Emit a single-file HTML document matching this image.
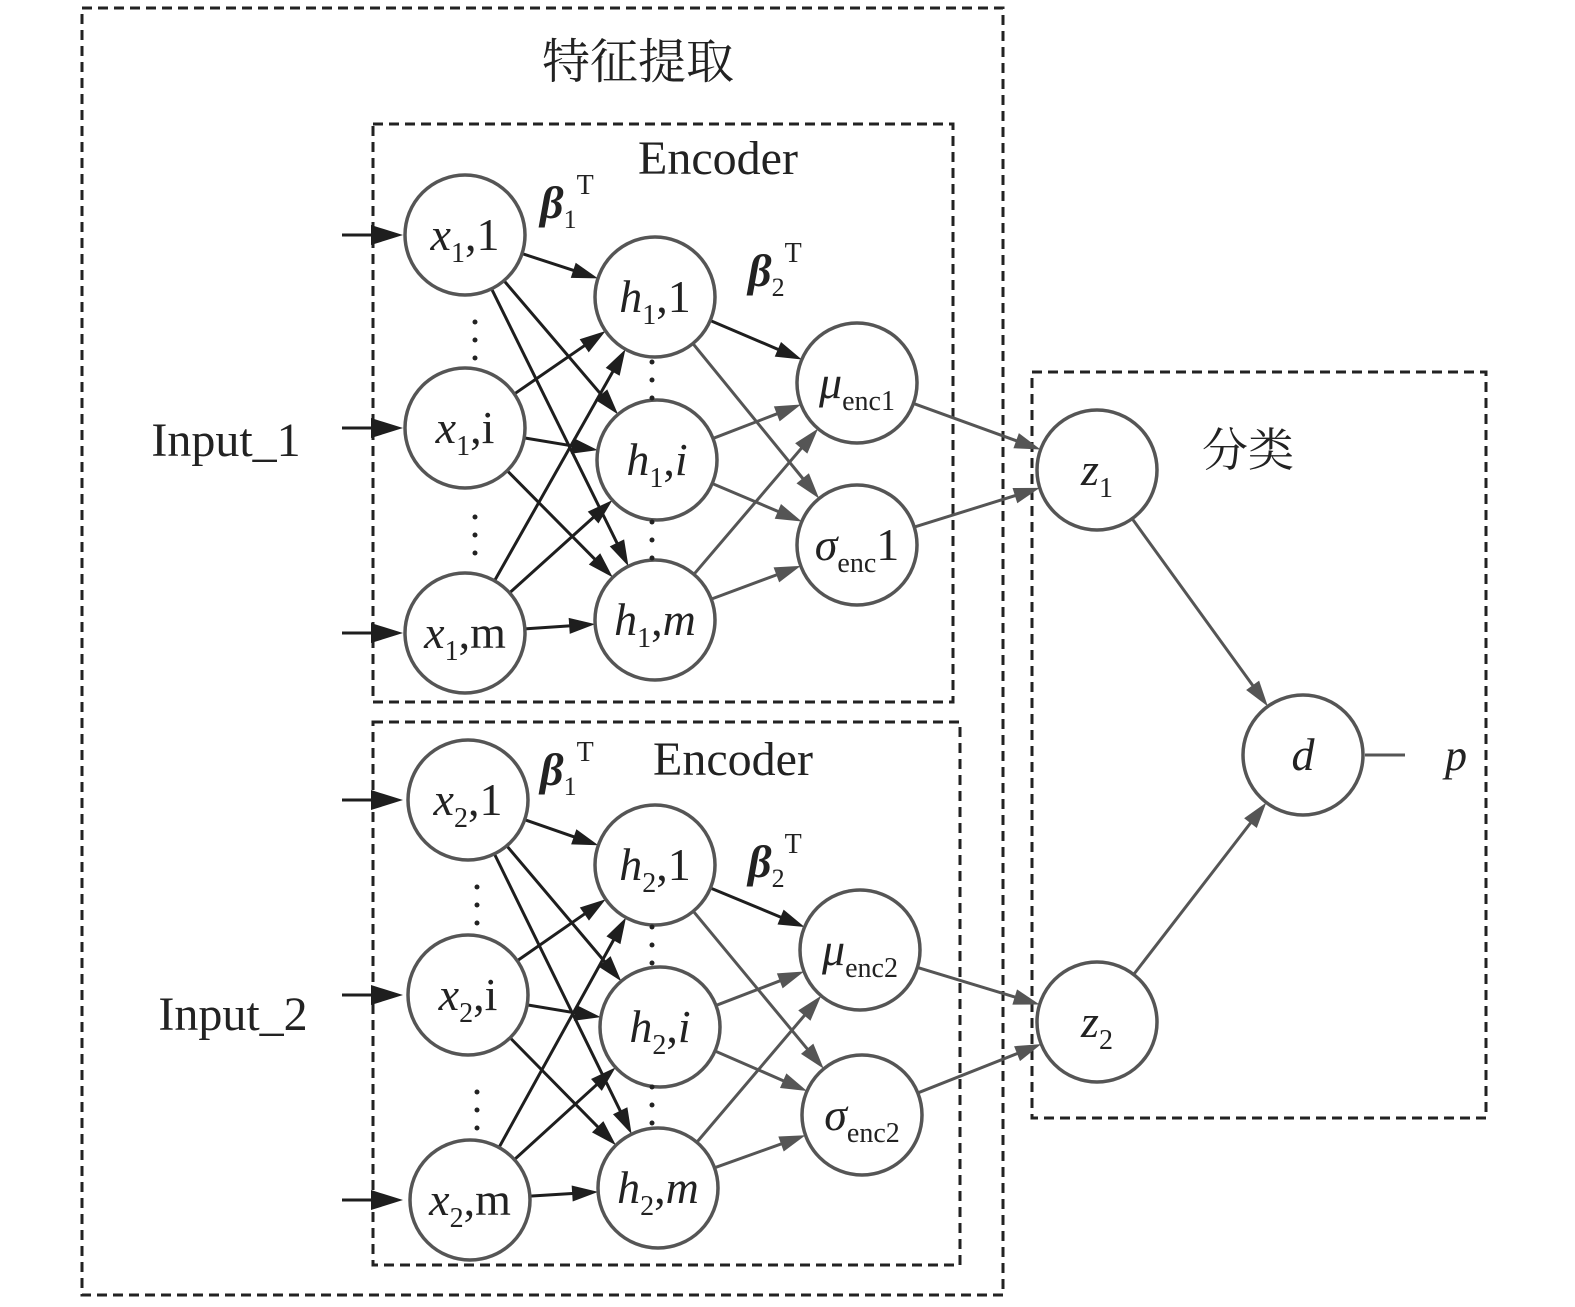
<!DOCTYPE html>
<html><head><meta charset="utf-8"><style>
html,body{margin:0;padding:0;background:#fff}
svg{display:block}
text{font-family:"Liberation Serif","Noto Serif CJK SC",serif;fill:#222}
</style></head><body>
<svg id="s" width="1575" height="1307" viewBox="0 0 1575 1307" xmlns="http://www.w3.org/2000/svg">
<g fill="none" stroke="#222" stroke-width="3" stroke-dasharray="10,6">
<rect x="82" y="8" width="921" height="1287"/>
<rect x="373" y="124" width="580" height="578"/>
<rect x="373" y="722" width="587" height="543"/>
<rect x="1032" y="372" width="454" height="746"/>
</g>
<text x="638" y="78" font-size="48" text-anchor="middle" font-family="Noto Serif CJK SC,serif">特征提取</text>
<text x="1248" y="466" font-size="46" text-anchor="middle" font-family="Noto Serif CJK SC,serif">分类</text>
<text x="718" y="174" font-size="48" text-anchor="middle">Encoder</text>
<text x="733" y="775" font-size="48" text-anchor="middle">Encoder</text>
<text x="226" y="456" font-size="48" text-anchor="middle">Input_1</text>
<text x="233" y="1030" font-size="48" text-anchor="middle">Input_2</text>
<g id="edges"></g>
<g id="nodes"></g>
<g font-size="46">
<text x="540" y="218" font-weight="bold" font-style="italic">β<tspan font-size="26" font-weight="normal" font-style="normal" dy="10">1</tspan><tspan font-size="28" font-weight="normal" font-style="normal" dy="-34">T</tspan></text>
<text x="748" y="286" font-weight="bold" font-style="italic">β<tspan font-size="26" font-weight="normal" font-style="normal" dy="10">2</tspan><tspan font-size="28" font-weight="normal" font-style="normal" dy="-34">T</tspan></text>
<text x="540" y="785" font-weight="bold" font-style="italic">β<tspan font-size="26" font-weight="normal" font-style="normal" dy="10">1</tspan><tspan font-size="28" font-weight="normal" font-style="normal" dy="-34">T</tspan></text>
<text x="748" y="877" font-weight="bold" font-style="italic">β<tspan font-size="26" font-weight="normal" font-style="normal" dy="10">2</tspan><tspan font-size="28" font-weight="normal" font-style="normal" dy="-34">T</tspan></text>
</g>
<line x1="1365" y1="755" x2="1405" y2="755" stroke="#555" stroke-width="3"/>
<text x="1456" y="770" font-size="44" font-style="italic" text-anchor="middle">p</text>
</svg>
<script>
const NS="http://www.w3.org/2000/svg";
const E=document.getElementById('edges'),N=document.getElementById('nodes');
const R=60;
function el(t,a,p){const e=document.createElementNS(NS,t);for(const k in a)e.setAttribute(k,a[k]);p.appendChild(e);return e;}
function arrow(x1,y1,x2,y2,c,hl,hw){
 const dx=x2-x1,dy=y2-y1,L=Math.hypot(dx,dy),ux=dx/L,uy=dy/L;
 const bx=x2-ux*hl,by=y2-uy*hl;
 el('line',{x1,y1,x2:bx+ux*2,y2:by+uy*2,stroke:c,'stroke-width':3},E);
 el('polygon',{points:`${x2},${y2} ${bx-uy*hw/2},${by+ux*hw/2} ${bx+uy*hw/2},${by-ux*hw/2}`,fill:c},E);
}
function conn(a,b,c){
 const dx=b[0]-a[0],dy=b[1]-a[1],L=Math.hypot(dx,dy),ux=dx/L,uy=dy/L;
 arrow(a[0]+ux*R,a[1]+uy*R,b[0]-ux*R,b[1]-uy*R,c,26,16);
}
function node(c,html){
 el('circle',{cx:c[0],cy:c[1],r:R,fill:'none',stroke:'#555','stroke-width':3.5},N);
 const t=el('text',{x:c[0],y:c[1]+15,'font-size':46,'text-anchor':'middle'},N);t.innerHTML=html;
}
function sub(s){return `<tspan font-size="28" dy="12">${s}</tspan><tspan dy="-12">`}
const enc=[
 {x:[[465,235],[465,428],[465,633]],h:[[655,297],[657,460],[655,620]],m:[857,383],s:[857,545],z:[1097,470],i:1,dots:[[475,340],[475,535],[652,380],[652,540]],ay:[235,428,633],tag:'enc1',sl:'1'},
 {x:[[468,800],[468,995],[470,1200]],h:[[655,865],[660,1027],[658,1188]],m:[860,950],s:[862,1115],z:[1097,1022],i:2,dots:[[477,905],[477,1110],[652,945],[652,1105]],ay:[800,995,1200],tag:'enc2',sl:''}
];
for(const e of enc){
 for(const a of e.x)for(const b of e.h)conn(a,b,'#1e1e1e');
 e.h.forEach((a,k)=>{conn(a,e.m,k==0?'#1e1e1e':'#555');conn(a,e.s,'#555');});
 conn(e.m,e.z,'#555');conn(e.s,e.z,'#555');
 for(const y of e.ay)arrow(342,y,403,y,'#1e1e1e',32,20);
 const i=e.i;
 node(e.x[0],`<tspan font-style="italic">x</tspan>${sub(i)},1</tspan>`);
 node(e.x[1],`<tspan font-style="italic">x</tspan>${sub(i)},i</tspan>`);
 node(e.x[2],`<tspan font-style="italic">x</tspan>${sub(i)},m</tspan>`);
 node(e.h[0],`<tspan font-style="italic">h</tspan>${sub(i)},1</tspan>`);
 node(e.h[1],`<tspan font-style="italic">h</tspan>${sub(i)},<tspan font-style="italic">i</tspan></tspan>`);
 node(e.h[2],`<tspan font-style="italic">h</tspan>${sub(i)},<tspan font-style="italic">m</tspan></tspan>`);
 node(e.m,`<tspan font-style="italic">μ</tspan><tspan font-size="28" dy="12">${e.tag}</tspan>`);
 node(e.s,`<tspan font-style="italic">σ</tspan><tspan font-size="28" dy="12">${e.i==1?'enc':'enc2'}</tspan><tspan dy="-12">${e.sl}</tspan>`);
 node(e.z,`<tspan font-style="italic">z</tspan><tspan font-size="28" dy="12">${i}</tspan>`);
 for(const d of e.dots)for(let k=0;k<3;k++)el('circle',{cx:d[0],cy:d[1]-18+k*18,r:2.5,fill:'#222'},N);
}
const d=[1303,755];
for(const z of [[1097,470],[1097,1022]]){conn(z,d,'#555');}
node(d,`<tspan font-style="italic">d</tspan>`);
</script>
</body></html>
